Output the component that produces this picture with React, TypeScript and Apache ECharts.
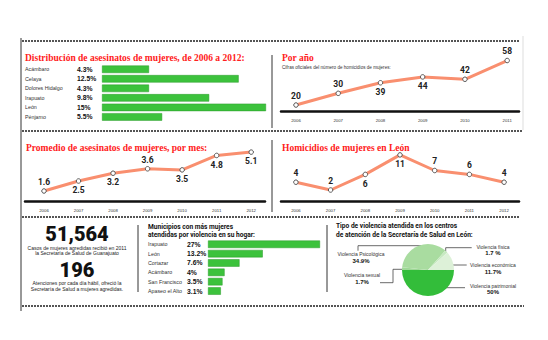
import React, { useEffect, useRef } from "react";
import * as echarts from "echarts";

// ---- Data ----
const distCats = ["Acámbaro", "Celaya", "Dolores Hidalgo", "Irapuato", "León", "Pénjamo"];
const distPct = [4.3, 12.5, 4.3, 9.8, 15, 5.5];

const porAnioYears = [2006, 2007, 2008, 2009, 2010, 2011];
const porAnioValues = [20, 30, 39, 44, 42, 58];

const promedioYears = [2006, 2007, 2008, 2009, 2010, 2011, 2012];
const promedioValues = [1.6, 2.5, 3.2, 3.6, 3.5, 4.8, 5.1];

const leonYears = [2006, 2007, 2008, 2009, 2010, 2011, 2012];
const leonValues = [4, 2, 6, 11, 7, 6, 4];

const muniCats = ["Irapuato", "León", "Cortazar", "Acámbaro", "San Francisco", "Apaseo el Alto"];
const muniPct = [27, 13.2, 7.6, 4, 3.5, 3.1];

const pieNames = ["Violencia patrimonial", "Violencia sexual", "Violencia Psicológica", "Violencia física", "Violencia económica"];
const pieValues = [50, 1.7, 34.9, 1.7, 11.7];

const statCases = "51,564";
const statCasesText = ["Casos de mujeres agredidas recibió en 2011", "la Secretaría de Salud de Guanajuato"];
const statDaily = "196";
const statDailyText = ["Atenciones por cada día hábil, ofreció la", "Secretaría de Salud a mujeres agredidas."];

// ---- Styles ----
const RED = "#ff2020";
const GREEN = "#3cc23c";
const LINE = "#f98f6f";
const TITLE_FONT = 'bold 9.5px "Liberation Serif"';
const SMALL_FONT = '5px "Liberation Sans"';
const pieColors = ["#33bd3a", "#9fd997", "#a9dca0", "#c6e9c0", "#ddf1d8"];
const porAnioPos = ["top", "top", "bottom", "bottom", "top", "top"];
const promedioPos = ["top", "bottom", "bottom", "top", "bottom", "bottom", "bottom"];
const leonPos = ["top", "top", "bottom", "bottom", "top", "top", "top"];

function txt(x: number, y: number, text: string, font: string, fill = "#222", align = "left", vAlign = "middle", lineHeight?: number) {
  const style: any = { text, font, fill, align, verticalAlign: vAlign, textAlign: align, textVerticalAlign: vAlign };
  if (lineHeight) style.lineHeight = lineHeight;
  return { type: "text", x, y, silent: true, style };
}
function hline(x1: number, x2: number, y: number, stroke = "#555", lineWidth = 2, dash?: number[]) {
  return { type: "line", silent: true, shape: { x1, y1: y, x2, y2: y }, style: { stroke, lineWidth, lineDash: dash } };
}
function vline(x: number, y1: number, y2: number, stroke = "#444", lineWidth = 1) {
  return { type: "line", silent: true, shape: { x1: x, y1, x2: x, y2 }, style: { stroke, lineWidth } };
}
function poly(points: number[][]) {
  return { type: "polyline", silent: true, shape: { points }, style: { stroke: "#444", lineWidth: 0.8, fill: "none" } };
}

function lineSeries(idx: number, years: number[], vals: number[], pos: string[]) {
  return {
    type: "line",
    xAxisIndex: idx,
    yAxisIndex: idx,
    data: years.map((y, i) => ({ value: [y, vals[i]], label: { position: pos[i] } })),
    lineStyle: { color: LINE, width: 3 },
    symbol: "circle",
    symbolSize: 4.5,
    itemStyle: { color: "#fff", borderColor: "#555", borderWidth: 1 },
    label: {
      show: true,
      formatter: (p: any) => String(p.value[1]),
      fontSize: 8.5,
      fontWeight: "bold",
      fontFamily: "Roboto",
      color: "#222",
      distance: 2,
    },
    z: 3,
  };
}

function yearAxis(idx: number, min: number, max: number, years: number[]) {
  return {
    type: "value",
    gridIndex: idx,
    min,
    max,
    axisLine: { show: true, onZero: false, lineStyle: { color: "#111", width: 2.5 } },
    axisTick: { show: false },
    splitLine: { show: false },
    axisLabel: {
      customValues: years,
      formatter: (v: number) => String(v),
      fontSize: 4.3,
      color: "#333",
      margin: 7,
      fontFamily: "Liberation Sans",
    },
  };
}

function catAxis(idx: number, cats: string[], pcts: number[], nameW: number, pctW: number) {
  return {
    type: "category",
    gridIndex: idx,
    inverse: true,
    data: cats,
    axisLine: { show: false },
    axisTick: { show: false },
    axisLabel: {
      interval: 0,
      margin: 0,
      formatter: (v: string, i: number) => `{n|${v}}{p|${pcts[i]}%}`,
      rich: {
        n: { width: nameW, fontSize: 5.3, color: "#333", fontFamily: "Liberation Sans", align: "left", lineHeight: 7 },
        p: { width: pctW, fontSize: 6.8, fontWeight: "bold", color: "#111", fontFamily: "Liberation Sans", align: "left", lineHeight: 7 },
      },
    },
  };
}

function barSeries(idx: number, vals: number[]) {
  return {
    type: "bar",
    xAxisIndex: idx,
    yAxisIndex: idx,
    data: vals,
    barWidth: 7.5,
    itemStyle: { color: GREEN, borderColor: "#2a9a2a", borderWidth: 0.5 },
    silent: true,
  };
}

export default function App() {
  const ref = useRef<HTMLDivElement>(null);
  useEffect(() => {
    if (!ref.current) return;
    const chart = echarts.init(ref.current, null, { renderer: "svg" });
    const option: any = {
      animation: false,
      backgroundColor: "#fff",
      grid: [
        { left: 102, top: 64.5, width: 164, height: 57.2 },
        { left: 281, top: 57, width: 238, height: 54 },
        { left: 25, top: 148, width: 240, height: 53 },
        { left: 281, top: 148, width: 238, height: 53 },
        { left: 208, top: 239.6, width: 112, height: 56.1 },
      ],
      xAxis: [
        { type: "value", gridIndex: 0, min: 0, max: 15, show: false },
        yearAxis(1, 2005.645, 2011.28, porAnioYears),
        yearAxis(2, 2005.45, 2012.4, promedioYears),
        yearAxis(3, 2005.57, 2012.43, leonYears),
        { type: "value", gridIndex: 4, min: 0, max: 27, show: false },
      ],
      yAxis: [
        catAxis(0, distCats, distPct, 52, 25),
        { type: "value", gridIndex: 1, min: 14.9, max: 61, show: false },
        { type: "value", gridIndex: 2, min: 0.7, max: 5.47, show: false },
        { type: "value", gridIndex: 3, min: -0.82, max: 12.77, show: false },
        catAxis(4, muniCats, muniPct, 39, 21),
      ],
      series: [
        barSeries(0, distPct),
        lineSeries(1, porAnioYears, porAnioValues, porAnioPos),
        lineSeries(2, promedioYears, promedioValues, promedioPos),
        lineSeries(3, leonYears, leonValues, leonPos),
        barSeries(4, muniPct),
        {
          type: "pie",
          center: [428, 270],
          radius: 26,
          startAngle: 0,
          clockwise: true,
          silent: true,
          label: { show: false },
          labelLine: { show: false },
          itemStyle: { borderWidth: 0 },
          data: pieNames.map((n, i) => ({ name: n, value: pieValues[i], itemStyle: { color: pieColors[i] } })),
        },
      ],
      graphic: [
        // separators
        hline(22, 520, 41, "#555", 2, [2, 1]),
        hline(22, 522, 131, "#555", 2, [2, 1]),
        hline(22, 520, 217, "#555", 2, [2, 1]),
        hline(22, 524, 306, "#555", 2, [2, 1]),
        vline(21, 38, 311, "#333", 1),
        vline(272, 55, 128, "#333", 1),
        vline(272, 140, 212, "#333", 1),
        vline(138, 225, 292, "#333", 1),
        vline(327, 225, 292, "#333", 1),
        vline(523, 36, 130, "#ddd", 1),
        // titles
        txt(25, 58, "Distribución de asesinatos de mujeres, de 2006 a 2012:", TITLE_FONT, RED),
        txt(282, 58, "Por año", TITLE_FONT, RED),
        txt(282, 67, "Cifras oficiales del número de homicidios de mujeres:", '4.6px "Liberation Sans"', "#333"),
        txt(26, 148, "Promedio de asesinatos de mujeres, por mes:", TITLE_FONT, RED),
        txt(282, 148, "Homicidios de mujeres en León", TITLE_FONT, RED),
        // stats
        txt(77, 233.5, statCases, '900 20px "Roboto"', "#111", "center", "middle", 14),
        txt(77, 248, statCasesText[0], SMALL_FONT, "#222", "center", "middle", 5),
        txt(77, 253, statCasesText[1], SMALL_FONT, "#222", "center", "middle", 5),
        txt(77, 269.5, statDaily, '900 20px "Roboto"', "#111", "center", "middle", 14),
        txt(77, 283, statDailyText[0], SMALL_FONT, "#222", "center", "middle", 5),
        txt(77, 289, statDailyText[1], SMALL_FONT, "#222", "center", "middle", 5),
        // bottom titles
        txt(148, 227, "Municipios con más mujeres", 'bold 6.6px "Roboto"', "#111"),
        txt(148, 235, "atendidas por violencia en su hogar:", 'bold 6.6px "Roboto"', "#111"),
        txt(336, 226, "Tipo de violencia atendida en los centros", 'bold 6.6px "Roboto"', "#111"),
        txt(336, 235, "de atención de la Secretaría de Salud en León:", 'bold 6.6px "Roboto"', "#111"),
        // pie labels
        txt(361, 254, pieNames[2], SMALL_FONT, "#333", "center"),
        txt(361, 260.7, `${pieValues[2]}%`, 'bold 6px "Liberation Sans"', "#111", "center"),
        txt(362, 275, pieNames[1], SMALL_FONT, "#333", "center"),
        txt(362, 281.7, `${pieValues[1]}%`, 'bold 6px "Liberation Sans"', "#111", "center"),
        txt(493, 246.7, pieNames[3], SMALL_FONT, "#333", "center"),
        txt(493, 252.7, `${pieValues[3]} %`, 'bold 6px "Liberation Sans"', "#111", "center"),
        txt(493, 265, pieNames[4], SMALL_FONT, "#333", "center"),
        txt(493, 271.7, `${pieValues[4]}%`, 'bold 6px "Liberation Sans"', "#111", "center"),
        txt(493, 285.7, pieNames[0], SMALL_FONT, "#333", "center"),
        txt(493, 291.7, `${pieValues[0]}%`, 'bold 6px "Liberation Sans"', "#111", "center"),
        poly([[427, 245.7], [358, 245.7], [358, 250.7]]),
        poly([[405, 269.3], [393, 269.3], [393, 282.7], [380, 282.7]]),
        poly([[445.7, 251.7], [445.7, 247.7], [471.7, 247.7]]),
        poly([[443, 265], [466.7, 265]]),
        poly([[435, 278.3], [435, 287.7], [465, 287.7]]),
      ],
    };
    chart.setOption(option);
    return () => chart.dispose();
  }, []);
  return (
    <div
      ref={ref}
      style={{ position: "fixed", left: 0, top: 0, width: 548, height: 340, background: "#fff" }}
    />
  );
}
